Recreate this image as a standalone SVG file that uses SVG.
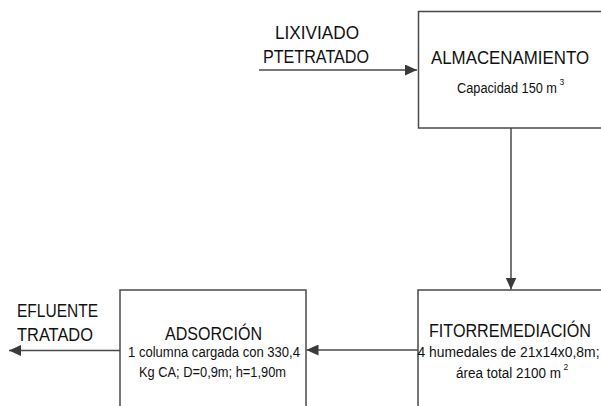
<svg xmlns="http://www.w3.org/2000/svg" width="601" height="406" viewBox="0 0 601 406">
<style>
.box{fill:#fff;stroke:#4a4a4a;stroke-width:1.5}
.ln{fill:none;stroke:#4a4a4a;stroke-width:1.5}
text{font-family:"Liberation Sans","Open Sans",Arial,sans-serif;fill:#111}
.t{font-size:18px}
.s{font-size:14px}
.sup{font-size:8.5px}
</style>
<defs>
<marker id="ah" viewBox="0 0 12 11" refX="12" refY="5.5" markerWidth="12" markerHeight="11" markerUnits="userSpaceOnUse" orient="auto">
<path d="M0,0 L12,5.5 L0,11 Z" fill="#3a3a3a"/>
</marker>
</defs>
<rect width="601" height="406" fill="#fff"/>
<g id="connectors">
<line class="ln" x1="259" y1="70" x2="417" y2="70" marker-end="url(#ah)"/>
<line class="ln" x1="511" y1="128" x2="511" y2="289.5" marker-end="url(#ah)"/>
<line class="ln" x1="418" y1="350" x2="306.5" y2="350" marker-end="url(#ah)"/>
<line class="ln" x1="120" y1="350.5" x2="9" y2="350.5" marker-end="url(#ah)"/>
</g>
<g id="input-label">
<text class="t" x="317" y="39" text-anchor="middle" textLength="84" lengthAdjust="spacingAndGlyphs">LIXIVIADO</text>
<text class="t" x="316" y="63" text-anchor="middle" textLength="106" lengthAdjust="spacingAndGlyphs">PTETRATADO</text>
</g>
<g id="almacenamiento">
<rect class="box" x="418.5" y="11.5" width="200" height="116.5"/>
<text class="t" x="510" y="64" text-anchor="middle" textLength="158" lengthAdjust="spacingAndGlyphs">ALMACENAMIENTO</text>
<text class="s" x="457" y="93" textLength="100" lengthAdjust="spacingAndGlyphs">Capacidad 150 m</text>
<text class="sup" x="559.5" y="85">3</text>
</g>
<g id="fitorremediacion">
<rect class="box" x="418" y="290" width="200" height="130"/>
<text class="t" x="510" y="337" text-anchor="middle" textLength="162" lengthAdjust="spacingAndGlyphs">FITORREMEDIACIÓN</text>
<text class="s" x="417.5" y="357" textLength="182" lengthAdjust="spacingAndGlyphs">4 humedales de 21x14x0,8m;</text>
<text class="s" x="456" y="378" textLength="105" lengthAdjust="spacingAndGlyphs">área total 2100 m</text>
<text class="sup" x="563.5" y="370">2</text>
</g>
<g id="adsorcion">
<rect class="box" x="120" y="290" width="186" height="130"/>
<text class="t" x="213.5" y="340" text-anchor="middle" textLength="97" lengthAdjust="spacingAndGlyphs">ADSORCIÓN</text>
<text class="s" x="128" y="357" textLength="172" lengthAdjust="spacingAndGlyphs">1 columna cargada con 330,4</text>
<text class="s" x="139" y="377" textLength="147" lengthAdjust="spacingAndGlyphs">Kg CA; D=0,9m; h=1,90m</text>
</g>
<g id="output-label">
<text class="t" x="17" y="317" textLength="81" lengthAdjust="spacingAndGlyphs">EFLUENTE</text>
<text class="t" x="17" y="341" textLength="76" lengthAdjust="spacingAndGlyphs">TRATADO</text>
</g>
</svg>
